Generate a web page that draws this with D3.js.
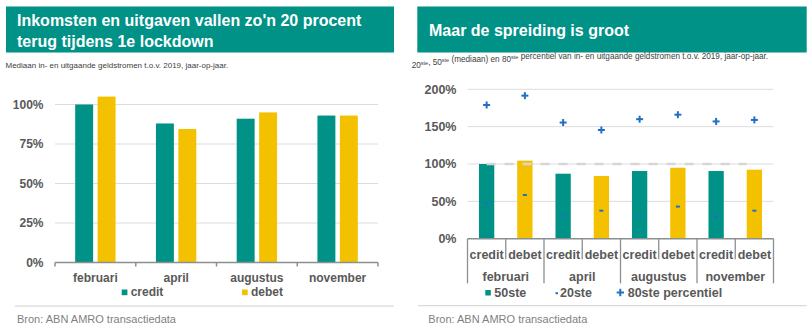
<!DOCTYPE html>
<html><head><meta charset="utf-8">
<script src="https://cdn.jsdelivr.net/npm/d3@7"></script>
<style>
html,body{margin:0;padding:0;background:#fff;}
svg{display:block;font-family:"Liberation Sans",Arial,sans-serif;}
</style></head>
<body><svg id="c" width="811" height="328"></svg>
<script>
// ---- data ----
const months = ["februari", "april", "augustus", "november"];
const seriesNames = ["credit", "debet"];
// left chart: median year-on-year (%)
const leftCredit = [100, 88, 91, 93];
const leftDebet = [105, 84.5, 95, 93];
const leftTicks = [0, 25, 50, 75, 100];
// right chart: percentiles (%)
const p50Credit = [100, 87, 90.6, 90.6];
const p50Debet = [104.5, 84, 95, 92.4];
const p20Credit = [48, 31, 30, 29.5];
const p20Debet = [58.5, 37.5, 43, 37.5];
const p80Credit = [179, 155.5, 160, 157];
const p80Debet = [191.5, 145.5, 166, 159];
const rightTicks = [0, 50, 100, 150, 200];
const leftTitle = ["Inkomsten en uitgaven vallen zo'n 20 procent", "terug tijdens 1e lockdown"];
const rightTitle = "Maar de spreiding is groot";
const source = "Bron: ABN AMRO transactiedata";

const TEAL = "#009286", YELLOW = "#f3c100", BLUE = "#1f6fc6";
const GRAY = "#595959", GRID = "#dcdcdc", AXIS = "#8a9090";
const svg = d3.select("#c");

// ===== LEFT PANEL =====
const L = svg.append("g");
L.append("rect").attr("x", 6).attr("y", 6.5).attr("width", 388).attr("height", 46).attr("fill", TEAL);
L.append("text").attr("x", 17).attr("y", 26).attr("fill", "#fff").attr("font-size", 16).attr("font-weight", "bold").text(leftTitle[0]);
L.append("text").attr("x", 17).attr("y", 46.5).attr("fill", "#fff").attr("font-size", 16).attr("font-weight", "bold").text(leftTitle[1]);
L.append("text").attr("x", 5.5).attr("y", 68.3).attr("fill", "#404040").attr("font-size", 8).text("Mediaan in- en uitgaande geldstromen t.o.v. 2019, jaar-op-jaar.");

const yL = d3.scaleLinear().domain([0, 100]).range([262.5, 104.5]);
const x0L = d3.scaleBand().domain(months).range([55, 378]).padding(0);
const x1L = d3.scaleBand().domain(seriesNames).range([x0L.bandwidth() * 0.25, x0L.bandwidth() * 0.75]).paddingInner(0.2);

// gridlines
L.append("g").selectAll("line").data(leftTicks.filter(d => d > 0)).join("line")
  .attr("x1", 55).attr("x2", 378).attr("y1", d => yL(d)).attr("y2", d => yL(d))
  .attr("stroke", GRID).attr("stroke-width", 1);
// y labels
L.append("g").selectAll("text").data(leftTicks).join("text")
  .attr("x", 43.5).attr("y", d => yL(d) + 4.3).attr("text-anchor", "end")
  .attr("font-size", 12).attr("font-weight", "bold").attr("fill", GRAY).text(d => d + "%");

const leftData = months.map((m, i) => ({ m, vals: [{ s: "credit", v: leftCredit[i] }, { s: "debet", v: leftDebet[i] }] }));
L.append("g").selectAll("g").data(leftData).join("g")
  .attr("transform", d => `translate(${x0L(d.m)},0)`)
  .selectAll("rect").data(d => d.vals).join("rect")
  .attr("x", d => x1L(d.s)).attr("width", x1L.bandwidth())
  .attr("y", d => yL(d.v)).attr("height", d => yL(0) - yL(d.v))
  .attr("fill", d => d.s === "credit" ? TEAL : YELLOW);

// x axis
const axL = L.append("g").attr("transform", `translate(0,${yL(0)})`);
axL.append("line").attr("x1", 55).attr("x2", 378).attr("stroke", AXIS).attr("stroke-width", 1.5);
const bounds = months.map(m => x0L(m)).concat([378]);
axL.selectAll("line.t").data(bounds).join("line").attr("class", "t")
  .attr("x1", d => d).attr("x2", d => d).attr("y1", 0).attr("y2", 4).attr("stroke", AXIS).attr("stroke-width", 1.5);
L.append("g").selectAll("text").data(months).join("text")
  .attr("x", d => x0L(d) + x0L.bandwidth() / 2).attr("y", 281.5).attr("text-anchor", "middle")
  .attr("font-size", 12).attr("font-weight", "bold").attr("fill", GRAY).text(d => d);

// legend
const legL = [{ s: "credit", x: 121.7, c: TEAL }, { s: "debet", x: 242, c: YELLOW }];
legL.forEach(d => {
  L.append("rect").attr("x", d.x).attr("y", 289.5).attr("width", 5.7).attr("height", 5.7).attr("fill", d.c);
  L.append("text").attr("x", d.x + 9).attr("y", 296.3).attr("font-size", 12).attr("font-weight", "bold").attr("fill", GRAY).text(d.s);
});
L.append("line").attr("x1", 15).attr("x2", 394).attr("y1", 306).attr("y2", 306).attr("stroke", "#d0d0d0");
L.append("text").attr("x", 17).attr("y", 322.8).attr("font-size", 11).attr("fill", "#7f7f7f").text(source);

// ===== RIGHT PANEL =====
const R = svg.append("g");
R.append("rect").attr("x", 417.3).attr("y", 6.5).attr("width", 389.4).attr("height", 46).attr("fill", TEAL);
R.append("text").attr("x", 429).attr("y", 35.5).attr("fill", "#fff").attr("font-size", 16).attr("font-weight", "bold").text(rightTitle);
const sub = R.append("text").attr("x", 411.7).attr("y", 68.3).attr("fill", "#404040").attr("font-size", 8.2);
const subParts = [["20", "ste"], [", 50", "ste"], [" (mediaan) en 80", "ste"], [" percentiel van in- en uitgaande geldstromen t.o.v. 2019, jaar-op-jaar.", ""]];
subParts.forEach(p => {
  sub.append("tspan").attr("font-size", 8.2).text(p[0]);
  if (p[1]) sub.append("tspan").attr("font-size", 5.5).attr("dy", -3).text(p[1]);
  if (p[1]) sub.append("tspan").attr("font-size", 8.2).attr("dy", 3).text("");
});

const yR = d3.scaleLinear().domain([0, 200]).range([238.7, 89.3]);
const slots = months.flatMap(m => seriesNames.map(s => m + "|" + s));
const slotX = d3.scaleBand().domain(slots).range([467.5, 773.5]).padding(0);
const barX = d3.scaleBand().domain(slots).range([467.5, 773.5]).paddingInner(0.6).paddingOuter(0.3);

R.append("g").selectAll("line").data(rightTicks.filter(d => d > 0)).join("line")
  .attr("x1", 467.5).attr("x2", 773.5).attr("y1", d => yR(d)).attr("y2", d => yR(d))
  .attr("stroke", GRID).attr("stroke-width", 1);
R.append("g").selectAll("text").data(rightTicks).join("text")
  .attr("x", 456.5).attr("y", d => yR(d) + 4.3).attr("text-anchor", "end")
  .attr("font-size", 12.5).attr("font-weight", "bold").attr("fill", GRAY).text(d => d + "%");

const rightData = [];
months.forEach((m, i) => {
  rightData.push({ k: m + "|credit", s: "credit", p50: p50Credit[i], p20: p20Credit[i], p80: p80Credit[i] });
  rightData.push({ k: m + "|debet", s: "debet", p50: p50Debet[i], p20: p20Debet[i], p80: p80Debet[i] });
});
R.append("g").selectAll("rect").data(rightData).join("rect")
  .attr("x", d => barX(d.k)).attr("width", barX.bandwidth())
  .attr("y", d => yR(d.p50)).attr("height", d => yR(0) - yR(d.p50))
  .attr("fill", d => d.s === "credit" ? TEAL : YELLOW);

// dashed 100% reference
R.append("line").attr("x1", slotX(slots[0]) + slotX.bandwidth() / 2).attr("x2", slotX(slots[7]) + slotX.bandwidth() / 2 - 7.5)
  .attr("y1", yR(100)).attr("y2", yR(100))
  .attr("stroke", "#d6d6d6").attr("stroke-width", 2.5).attr("stroke-dasharray", "9,9");

// 20th percentile dashes
R.append("g").selectAll("rect").data(rightData).join("rect")
  .attr("x", d => barX(d.k) + barX.bandwidth() / 2 - 2).attr("width", 4)
  .attr("y", d => yR(d.p20) - 1).attr("height", 2).attr("fill", BLUE);
// 80th percentile plus
const plus = R.append("g").selectAll("g").data(rightData).join("g")
  .attr("transform", d => `translate(${barX(d.k) + barX.bandwidth() / 2},${yR(d.p80)})`);
plus.append("line").attr("x1", -3.5).attr("x2", 3.5).attr("stroke", BLUE).attr("stroke-width", 2);
plus.append("line").attr("y1", -3.5).attr("y2", 3.5).attr("stroke", BLUE).attr("stroke-width", 2);

// x axis (multi-level)
const axR = R.append("g");
axR.append("line").attr("x1", 467.5).attr("x2", 773.5).attr("y1", yR(0)).attr("y2", yR(0)).attr("stroke", AXIS).attr("stroke-width", 1.5);
const sepXs = slots.map(k => slotX(k)).concat([773.5]);
axR.selectAll("line.s").data(sepXs).join("line").attr("class", "s")
  .attr("x1", d => d).attr("x2", d => d).attr("y1", yR(0))
  .attr("y2", (d, i) => (i % 2 === 0 ? 283.3 : 259.3))
  .attr("stroke", AXIS).attr("stroke-width", 1.3);
axR.selectAll("text.s").data(slots).join("text").attr("class", "s")
  .attr("x", d => slotX(d) + slotX.bandwidth() / 2).attr("y", 258.8).attr("text-anchor", "middle")
  .attr("font-size", 12.5).attr("font-weight", "bold").attr("fill", GRAY).text(d => d.split("|")[1]);
axR.selectAll("text.m").data(months).join("text").attr("class", "m")
  .attr("x", d => slotX(d + "|credit") + slotX.bandwidth()).attr("y", 281.3).attr("text-anchor", "middle")
  .attr("font-size", 12.5).attr("font-weight", "bold").attr("fill", GRAY).text(d => d);

// legend
R.append("rect").attr("x", 485.3).attr("y", 290).attr("width", 5.5).attr("height", 5.5).attr("fill", TEAL);
R.append("text").attr("x", 494.3).attr("y", 296.5).attr("font-size", 12.5).attr("font-weight", "bold").attr("fill", GRAY).text("50ste");
R.append("rect").attr("x", 555.5).attr("y", 292.2).attr("width", 2.5).attr("height", 2).attr("fill", BLUE);
R.append("text").attr("x", 560).attr("y", 296.5).attr("font-size", 12.5).attr("font-weight", "bold").attr("fill", GRAY).text("20ste");
R.append("line").attr("x1", 616.7).attr("x2", 624).attr("y1", 292.5).attr("y2", 292.5).attr("stroke", BLUE).attr("stroke-width", 2);
R.append("line").attr("x1", 620.3).attr("x2", 620.3).attr("y1", 288.8).attr("y2", 296.2).attr("stroke", BLUE).attr("stroke-width", 2);
R.append("text").attr("x", 627.7).attr("y", 296.5).attr("font-size", 12.5).attr("font-weight", "bold").attr("fill", GRAY).text("80ste percentiel");

R.append("line").attr("x1", 418).attr("x2", 806.7).attr("y1", 305.7).attr("y2", 305.7).attr("stroke", "#d0d0d0");
R.append("text").attr("x", 428.3).attr("y", 322.5).attr("font-size", 11).attr("fill", "#7f7f7f").text(source);
</script></body></html>
